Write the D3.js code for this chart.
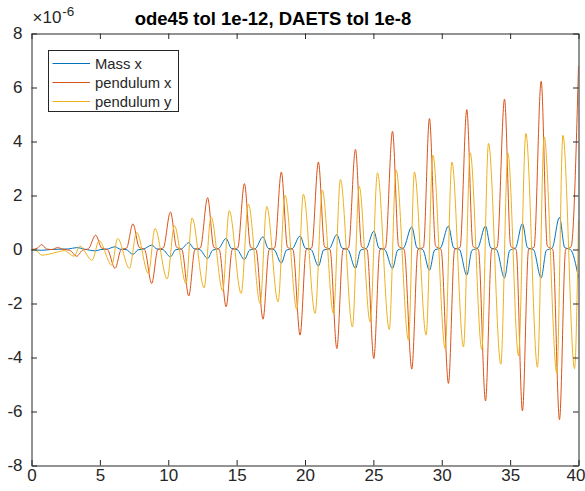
<!DOCTYPE html>
<html>
<head>
<meta charset="utf-8">
<script src="https://cdn.jsdelivr.net/npm/d3@7"></script>
<style>
  html, body { margin: 0; padding: 0; background: #fff; }
  svg { display: block; }
  text { font-family: "Liberation Sans", Arial, Helvetica, sans-serif; fill: #262626; }
</style>
</head>
<body>
<script>
// ---- Data (time, value in units of 1e-6) ----
const seriesNames = ["Mass x", "pendulum x", "pendulum y"];
const seriesColors = ["#0072BD", "#D95319", "#EDB120"];
const xTicks = [0, 5, 10, 15, 20, 25, 30, 35, 40];
const yTicks = [-8, -6, -4, -2, 0, 2, 4, 6, 8];
const titleText = "ode45 tol 1e-12, DAETS tol 1e-8";

const massX = [
  [0,0],[0.74,-0.03],[1.4,0.0],[2.0,0.01],[2.7,0.02],[3.30,0.07],[3.9,0.01],[4.69,-0.05],
  [5.07,0.0],[5.49,0.01],[6.11,0.10],[6.49,0.01],[6.91,0.0],[7.42,-0.18],[7.80,-0.01],[8.22,0.02],
  [8.79,0.16],[9.17,0.02],[9.59,0.0],[10.16,-0.27],[10.54,-0.01],[10.96,0.02],[11.50,0.25],[11.88,0.03],
  [12.30,0.0],[12.88,-0.33],[13.26,-0.02],[13.68,0.03],[14.23,0.41],[14.61,0.04],[15.03,0.0],[15.57,-0.37],
  [15.95,-0.02],[16.37,0.03],[16.93,0.47],[17.31,0.04],[17.73,0.0],[18.27,-0.50],[18.65,-0.02],[19.07,0.03],
  [19.64,0.50],[20.02,0.05],[20.44,0.0],[20.98,-0.61],[21.36,-0.02],[21.78,0.03],[22.33,0.55],[22.71,0.05],
  [23.13,0.0],[23.69,-0.70],[24.07,-0.02],[24.49,0.04],[25.03,0.68],[25.41,0.05],[25.83,0.0],[26.40,-0.70],
  [26.78,-0.02],[27.20,0.05],[27.81,0.84],[28.19,0.06],[28.61,0.0],[29.10,-0.77],[29.48,-0.02],[29.90,0.05],
  [30.49,0.87],[30.87,0.06],[31.29,0.0],[31.83,-0.95],[32.21,-0.03],[32.63,0.05],[33.20,0.87],[33.58,0.06],
  [34.0,0.0],[34.59,-1.05],[34.97,-0.03],[35.39,0.05],[35.90,0.96],[36.28,0.06],[36.70,0.0],[37.27,-1.05],
  [37.65,-0.03],[38.07,0.05],[38.61,1.19],[38.99,0.07],[39.41,0.0],[40.0,-1.04]
];

const pendulumX = [
  [0,0],[0.4,0.04],[0.74,0.18],[1.1,0.02],[1.5,0.0],[1.9,0.07],[2.3,0.01],[2.8,-0.03],[3.30,-0.25],
  [3.75,-0.02],[4.15,0.02],[4.69,0.53],[5.14,0.05],[5.55,0.0],[6.11,-0.70],[6.56,0.0],[6.95,0.05],
  [7.42,0.95],[7.87,0.08],[8.27,0.0],[8.79,-1.26],[9.24,0.0],[9.64,0.06],[10.16,1.39],[10.61,0.08],
  [11.0,0.0],[11.50,-1.72],[11.95,0.0],[12.35,0.06],[12.88,1.92],[13.33,0.08],[13.73,0.0],[14.23,-2.12],
  [14.68,0.0],[15.08,0.06],[15.57,2.44],[16.02,0.08],[16.42,0.0],[16.93,-2.58],[17.38,0.0],[17.78,0.06],
  [18.27,2.87],[18.72,0.08],[19.12,0.0],[19.64,-3.17],[20.09,0.0],[20.49,0.06],[20.98,3.24],[21.43,0.1],
  [21.83,0.0],[22.33,-3.67],[22.78,0.0],[23.18,0.06],[23.69,3.71],[24.14,0.1],[24.54,0.0],[25.03,-4.04],
  [25.48,0.0],[25.88,0.06],[26.40,4.38],[26.85,0.12],[27.25,0.0],[27.81,-4.43],[28.26,0.0],[28.66,0.08],
  [29.10,4.85],[29.55,0.12],[29.95,0.0],[30.49,-4.96],[30.94,0.0],[31.34,0.08],[31.83,5.18],[32.28,0.12],
  [32.68,0.0],[33.20,-5.61],[33.65,0.0],[34.05,0.08],[34.59,5.57],[35.04,0.12],[35.44,0.0],[35.90,-5.98],
  [36.35,0.0],[36.75,0.08],[37.27,6.23],[37.72,0.12],[38.12,0.0],[38.61,-6.30],[39.06,0.0],[39.46,0.1],
  [40.0,6.8]
];

const pendulumY = [
  [0,0],[0.3,-0.02],[0.75,-0.21],[1.3,-0.17],[2.0,-0.08],[2.4,-0.04],[3.1,-0.25],[3.55,0.12],
  [4.42,-0.40],[4.95,0.32],[5.87,-0.58],[6.30,0.41],[7.16,-0.70],[7.69,0.63],[8.55,-0.89],[9.03,0.78],
  [9.92,-1.09],[10.45,0.88],[11.30,-1.27],[11.74,1.17],[12.62,-1.42],[13.13,1.21],[13.98,-1.53],[14.46,1.44],
  [15.33,-1.63],[15.86,1.68],[16.72,-2.0],[17.20,1.60],[18.03,-1.94],[18.54,2.01],[19.40,-2.22],[19.88,2.05],
  [20.74,-2.37],[21.27,2.20],[22.08,-2.37],[22.59,2.59],[23.47,-2.87],[23.96,2.34],[24.76,-2.68],[25.30,2.84],
  [26.16,-2.96],[26.66,2.95],[27.57,-3.36],[28.0,2.87],[28.86,-3.17],[29.35,3.49],[30.25,-3.67],[30.74,3.24],
  [31.59,-3.61],[32.08,3.58],[32.93,-3.70],[33.42,3.93],[34.32,-4.25],[34.84,3.56],[35.61,-3.93],[36.15,4.30],
  [37.0,-4.36],[37.49,4.17],[38.42,-4.59],[38.86,4.23],[39.71,-4.41],[40.0,1.09]
];

const allSeries = [massX, pendulumX, pendulumY];

// ---- Layout ----
const W = 585, H = 491;
const mLeft = 31.5, mRight = 578.5, mTop = 33.5, mBottom = 465.5;
const axisColor = "#262626";
const fontSize = 17;

const svg = d3.select("body").append("svg").attr("width", W).attr("height", H);
svg.append("rect").attr("width", W).attr("height", H).attr("fill", "#fff");

const x = d3.scaleLinear().domain([0, 40]).range([mLeft, mRight]);
const y = d3.scaleLinear().domain([-8, 8]).range([mBottom, mTop]);

svg.append("defs").append("clipPath").attr("id", "clip")
  .append("rect").attr("x", mLeft).attr("y", mTop).attr("width", mRight - mLeft).attr("height", mBottom - mTop);

// Lines
const line = d3.line().x(d => x(d[0])).y(d => y(d[1])).curve(d3.curveMonotoneX);
const plotG = svg.append("g").attr("clip-path", "url(#clip)");
allSeries.forEach((s, i) => {
  plotG.append("path").datum(s)
    .attr("d", line)
    .attr("fill", "none")
    .attr("stroke", seriesColors[i])
    .attr("stroke-width", 1)
    .attr("stroke-linejoin", "round");
});

// Axes (MATLAB box style, inward ticks)
function styleAxis(g) {
  g.selectAll("path.domain").attr("stroke", axisColor).attr("stroke-width", 1);
  g.selectAll(".tick line").attr("stroke", axisColor).attr("stroke-width", 1);
  g.selectAll(".tick text").attr("fill", axisColor)
    .style("font-size", fontSize + "px")
    .style("font-family", '"Liberation Sans", Arial, Helvetica, sans-serif');
}
const tickLen = 5.5;
const xAxisG = svg.append("g").attr("transform", `translate(0,${mBottom})`)
  .call(d3.axisBottom(x).tickValues(xTicks).tickSizeInner(-tickLen).tickSizeOuter(0).tickPadding(3).tickFormat(d3.format("d")))
  .call(styleAxis);
// keep the last label inside the picture
xAxisG.selectAll(".tick text").filter(d => d === 40).attr("text-anchor", "end").attr("x", W - mRight);
svg.append("g").attr("transform", `translate(0,${mTop})`)
  .call(d3.axisTop(x).tickValues(xTicks).tickSizeInner(-tickLen).tickSizeOuter(0).tickFormat(""))
  .call(styleAxis);
svg.append("g").attr("transform", `translate(${mLeft},0)`)
  .call(d3.axisLeft(y).tickValues(yTicks).tickSizeInner(-tickLen).tickSizeOuter(0).tickPadding(9).tickFormat(d3.format("d")))
  .call(styleAxis);
svg.append("g").attr("transform", `translate(${mRight},0)`)
  .call(d3.axisRight(y).tickValues(yTicks).tickSizeInner(-tickLen).tickSizeOuter(0).tickFormat(""))
  .call(styleAxis);

svg.selectAll(".tick text").text(function() { return this.textContent.replace("\u2212", "-"); });

// Exponent label
const expT = svg.append("text").attr("x", mLeft + 1).attr("y", 23).style("font-size", fontSize + "px");
expT.append("tspan").text("\u00d710");
expT.append("tspan").attr("dx", 1).attr("dy", -7).style("font-size", "13.5px").text("-6");

// Title
svg.append("text").attr("x", 273).attr("y", 25).attr("text-anchor", "middle")
  .style("font-size", "18.5px").style("font-weight", "bold").style("fill", "#000").text(titleText);

// Legend
const lg = svg.append("g");
const lgX = 48.5, lgY = 50.5, lgW = 130, lgH = 61;
lg.append("rect").attr("x", lgX).attr("y", lgY).attr("width", lgW).attr("height", lgH)
  .attr("fill", "#fff").attr("stroke", axisColor).attr("stroke-width", 1);
seriesNames.forEach((name, i) => {
  const cy = 63.5 + i * 19;
  lg.append("line").attr("x1", 52.5).attr("x2", 90).attr("y1", cy).attr("y2", cy)
    .attr("stroke", seriesColors[i]).attr("stroke-width", 1);
  lg.append("text").attr("x", 95).attr("y", cy).attr("dy", "0.35em")
    .style("font-size", "14.8px").text(name);
});
</script>
</body>
</html>
